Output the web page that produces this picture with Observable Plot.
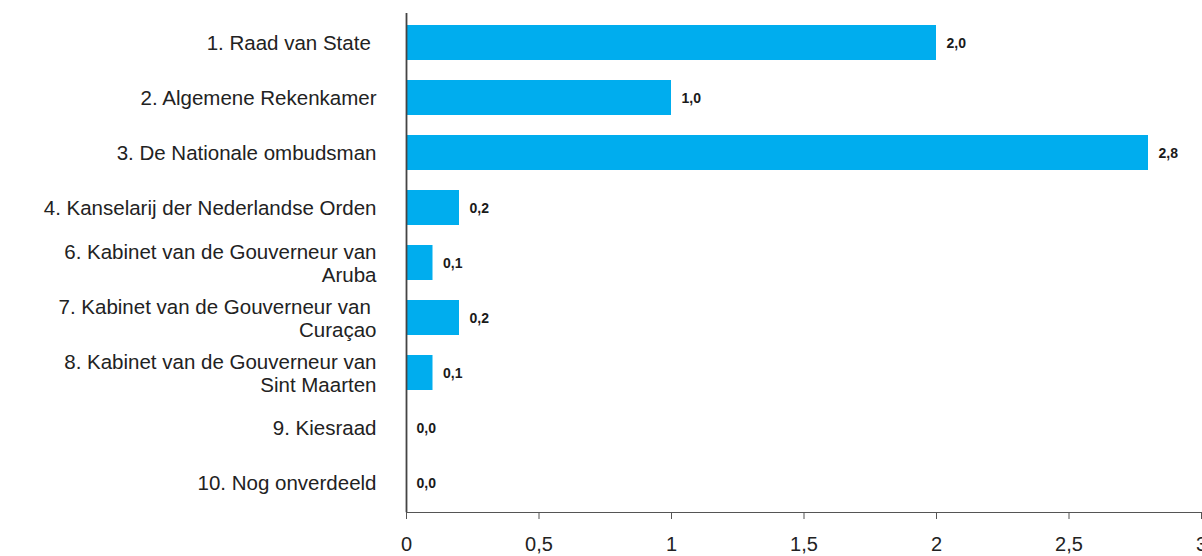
<!DOCTYPE html>
<html>
<head>
<meta charset="utf-8">
<script src="https://cdn.jsdelivr.net/npm/d3@7"></script>
<script src="https://cdn.jsdelivr.net/npm/@observablehq/plot@0.6"></script>
<style>
  html, body { margin: 0; padding: 0; background: #fff; }
  #chart svg { display: block; }
</style>
</head>
<body>
<div id="chart"></div>
<script>
const categories = [
  "1. Raad van State ",
  "2. Algemene Rekenkamer",
  "3. De Nationale ombudsman",
  "4. Kanselarij der Nederlandse Orden",
  "6. Kabinet van de Gouverneur van\nAruba",
  "7. Kabinet van de Gouverneur van \nCuraçao",
  "8. Kabinet van de Gouverneur van\nSint Maarten",
  "9. Kiesraad",
  "10. Nog onverdeeld"
];
const values = [2.0, 1.0, 2.8, 0.2, 0.1, 0.2, 0.1, 0.0, 0.0];
const xTicks = [0, 0.5, 1, 1.5, 2, 2.5, 3];

const data = categories.map((c, i) => ({category: c, value: values[i]}));
const nl = (v, digits) => (digits == null ? String(v) : v.toFixed(digits)).replace(".", ",");

const chart = Plot.plot({
  width: 1202,
  height: 556,
  marginLeft: 406,
  marginRight: 1,
  marginTop: 12,
  marginBottom: 44,
  style: {fontFamily: "'Liberation Sans', Arial, sans-serif", background: "#fff"},
  x: {domain: [0, 3], axis: null},
  y: {domain: categories, axis: null, paddingInner: 0.368, paddingOuter: 0.2},
  marks: [
    Plot.barX(data, {y: "category", x: "value", fill: "#00adee", insetLeft: 1}),
    Plot.text(data, {
      y: "category", x: "value", text: d => nl(d.value, 1),
      textAnchor: "start", dx: 10, dy: 1, fontSize: 14, fontWeight: "bold", fill: "#1a1a1a"
    }),
    Plot.ruleX([0], {stroke: "#444", strokeWidth: 1.8, insetTop: 1}),
    Plot.frame({anchor: "bottom", stroke: "#555", strokeWidth: 1.2}),
    Plot.axisX({
      ticks: xTicks, tickFormat: d => nl(d), tickSize: 7, tickPadding: 17,
      fontSize: 20, stroke: "#555", fill: "#222", label: null
    }),
    Plot.axisY({
      tickSize: 0, tickPadding: 30, fontSize: 20.5, lineHeight: 1.12,
      fill: "#222", label: null, textOverflow: null
    })
  ]
});
document.getElementById("chart").appendChild(chart);
</script>
</body>
</html>
